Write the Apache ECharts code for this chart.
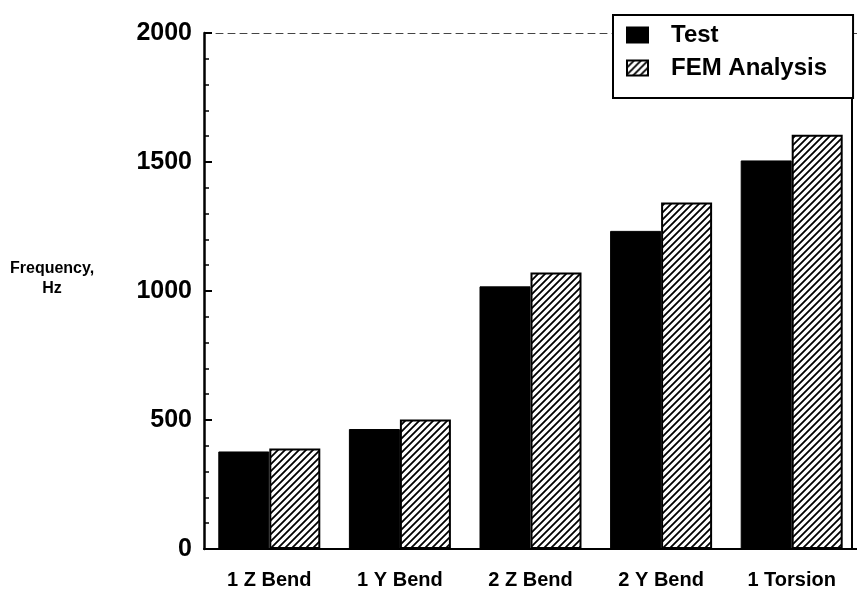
<!DOCTYPE html>
<html>
<head>
<meta charset="utf-8">
<script src="https://cdn.jsdelivr.net/npm/echarts@6/dist/echarts.min.js"></script>
<style>
html,body{margin:0;padding:0;background:#fff;}
#chart{width:857px;height:604px;}
</style>
</head>
<body>
<div id="chart"></div>
<script>
var categories = ['1 Z Bend', '1 Y Bend', '2 Z Bend', '2 Y Bend', '1 Torsion'];
var testValues = [378, 465, 1018, 1233, 1506];
var femValues = [390, 502, 1072, 1343, 1606];
var seriesNames = ['Test', 'FEM Analysis'];
var yTicks = [0, 500, 1000, 1500, 2000];

function hatch() {
  var c = document.createElement('canvas');
  c.width = 7; c.height = 7;
  var g = c.getContext('2d');
  g.fillStyle = '#fff';
  g.fillRect(0, 0, 7, 7);
  g.strokeStyle = '#000';
  g.lineWidth = 1.8;
  g.beginPath();
  g.moveTo(-1, 8); g.lineTo(8, -1);
  g.moveTo(-1, 1); g.lineTo(1, -1);
  g.moveTo(6, 8); g.lineTo(8, 6);
  g.stroke();
  return c;
}
var hatchFill = { image: hatch(), repeat: 'repeat' };
var sans = "'Liberation Sans', Arial, Helvetica, sans-serif";

var chart = echarts.init(document.getElementById('chart'), null, { renderer: 'canvas' });
chart.setOption({
  animation: false,
  backgroundColor: '#fff',
  grid: { left: 204, right: 0, top: 33, bottom: 55, containLabel: false },
  legend: {
    data: seriesNames,
    orient: 'vertical',
    left: 613,
    top: 15,
    selectedMode: false,
    backgroundColor: '#fff',
    borderColor: '#000',
    borderWidth: 2,
    padding: [8, 26, 18, 13],
    itemGap: 9,
    itemWidth: 21,
    itemHeight: 15,
    icon: 'rect',
    z: 10,
    textStyle: {
      fontFamily: sans,
      fontWeight: 'bold',
      fontSize: 24,
      color: '#000',
      lineHeight: 24,
      padding: [0, 0, 0, 18]
    }
  },
  xAxis: [{
    type: 'category',
    data: categories,
    position: 'bottom',
    axisLine: { lineStyle: { color: '#000', width: 2 } },
    axisTick: { show: false },
    axisLabel: {
      interval: 0,
      margin: 21,
      color: '#000',
      fontFamily: sans,
      fontWeight: 'bold',
      fontSize: 20
    }
  }, {
    type: 'category',
    data: categories,
    position: 'top',
    axisLine: { show: true, onZero: false, lineStyle: { color: '#444', width: 1, type: [7, 5] } },
    axisTick: { show: false },
    axisLabel: { show: false }
  }],
  yAxis: [{
    type: 'value',
    min: 0,
    max: 2000,
    interval: 500,
    position: 'left',
    axisLine: { show: true, onZero: false, lineStyle: { color: '#000', width: 2.5 } },
    axisTick: { show: true, inside: true, length: 8, lineStyle: { color: '#000', width: 2 } },
    minorTick: { show: true, splitNumber: 5, length: 5, lineStyle: { color: '#000', width: 1.5 } },
    splitLine: { show: false },
    axisLabel: {
      margin: 12,
      color: '#000',
      fontFamily: sans,
      fontWeight: 'bold',
      fontSize: 25,
      formatter: function (v) { return yTicks.indexOf(v) >= 0 ? String(v) : ''; }
    }
  }, {
    type: 'value',
    min: 0,
    max: 2000,
    interval: 500,
    position: 'right',
    offset: -5,
    axisLine: { show: true, onZero: false, lineStyle: { color: '#000', width: 2 } },
    axisTick: { show: false },
    splitLine: { show: false },
    axisLabel: { show: false }
  }],
  graphic: [{
    type: 'text',
    left: 10,
    top: 259,
    style: {
      text: 'Frequency,\nHz',
      fill: '#000',
      font: 'bold 16px ' + sans,
      textAlign: 'center',
      lineHeight: 20
    }
  }],
  series: [{
    name: seriesNames[0],
    type: 'bar',
    data: testValues,
    barWidth: 51,
    barGap: '0%',
    itemStyle: { color: '#000', borderColor: '#000', borderWidth: 1 }
  }, {
    name: seriesNames[1],
    type: 'bar',
    data: femValues,
    barWidth: 51,
    barGap: '0%',
    itemStyle: { color: hatchFill, borderColor: '#000', borderWidth: 2 }
  }]
});
</script>
</body>
</html>
